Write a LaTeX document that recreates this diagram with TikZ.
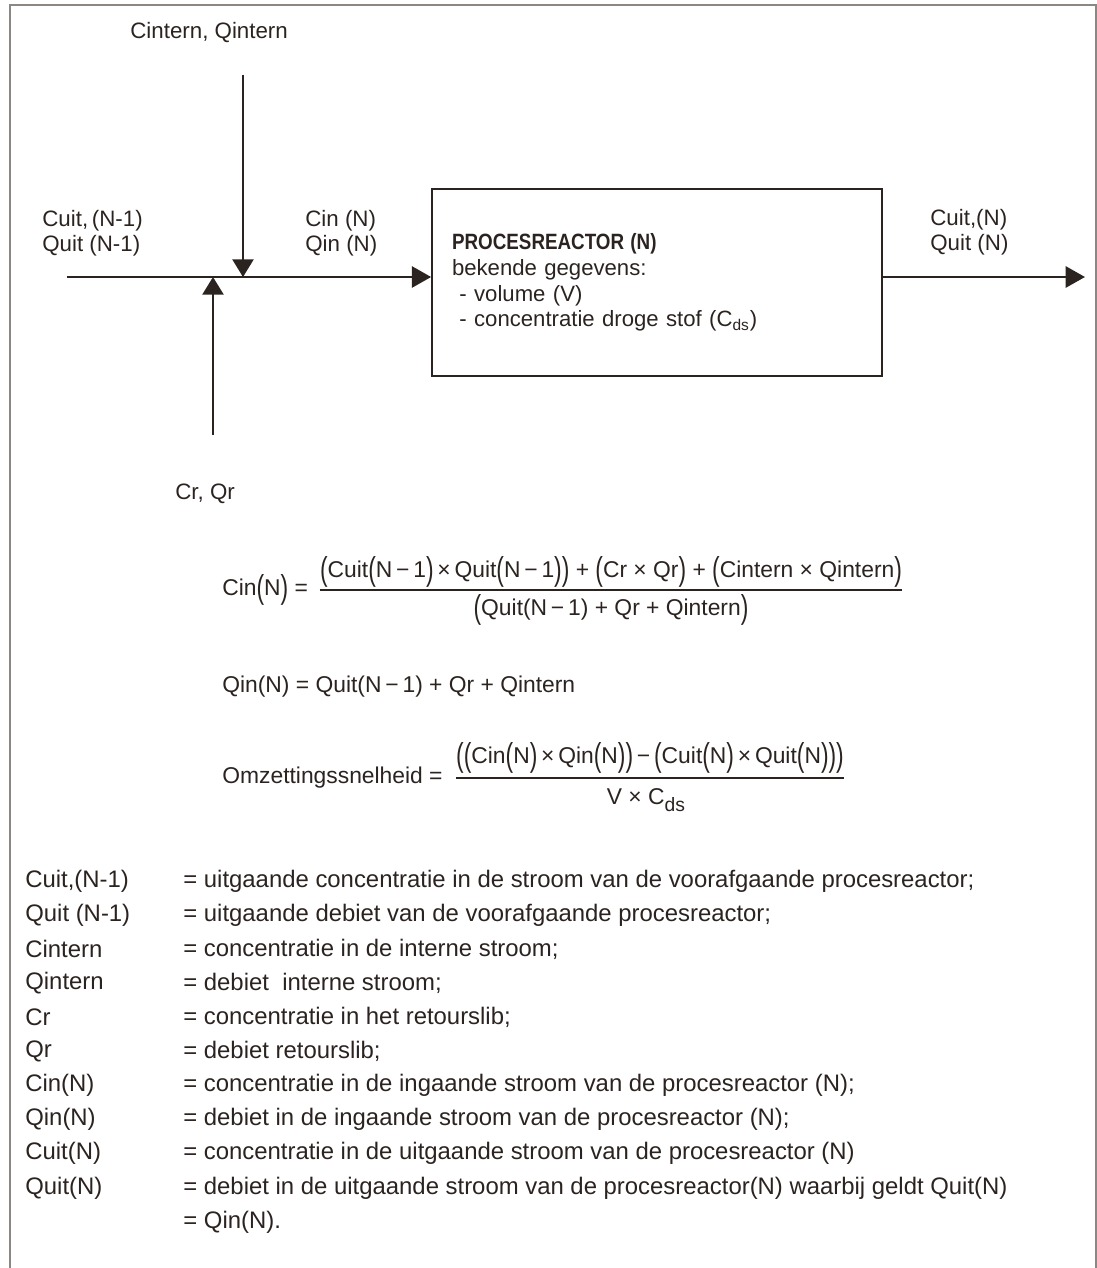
\documentclass[tikz,border=0pt]{standalone}
\usepackage{fontspec}
\usepackage{graphicx}
\setmainfont{Liberation Sans}
\usetikzlibrary{arrows.meta}
\definecolor{ink}{RGB}{43,35,32}
\definecolor{framegray}{RGB}{140,135,130}
\newcommand{\bo}{\raisebox{-0.12em}{\scalebox{1}[1.45]{(}}}
\newcommand{\bc}{\raisebox{-0.12em}{\scalebox{1}[1.45]{)}}}
\begin{document}
\begin{tikzpicture}[x=0.02cm, y=-0.02cm, font=\fontsize{12.7}{14.2}\selectfont, text=ink,
   lbl/.style={anchor=west, inner sep=0pt, align=left},
   formula/.style={lbl, font=\fontsize{13}{15}\selectfont},
   fracpart/.style={inner sep=0pt, font=\fontsize{13}{15}\selectfont},
   fracbar/.style={draw=ink, line width=0.8pt},
   legend/.style={lbl, font=\fontsize{13.6}{16}\selectfont},
   flow/.style={draw=ink, line width=1.5pt, -{Triangle[length=11pt,width=12pt]}},
   feed/.style={draw=ink, line width=1pt, -{Triangle[length=10pt,width=12pt]}},
   reactor/.style={draw=ink, line width=1pt, minimum width=9cm, minimum height=3.74cm,
      text width=8.2cm, inner xsep=0.4cm, align=left, font=\fontsize{12.6}{14.7}\selectfont}]
   \useasboundingbox (0,0) rectangle (1097,1268);
   \draw[framegray, line width=1pt] (10,1268) -- (10,5) -- (1096,5) -- (1096,1268);
   % streams into the reactor
   \node[lbl] (intern) at (130,33) {Cintern, Qintern};
   \node[lbl] (prev) at (42,233) {Cuit,\,(N-1)\\Quit (N-1)};
   \node[lbl] (inlbl) at (305,233) {Cin (N)\\Qin (N)};
   \node[lbl] (retour) at (175,494) {Cr, Qr};
   \coordinate (start) at (67,277);
   \coordinate (ctop) at (243,75);
   \coordinate (cjunc) at (243,277);
   \coordinate (rbot) at (213,435);
   \coordinate (rjunc) at (213,277);
   \node[reactor] (reactor) at (657,282.5) {\scalebox{0.85}[1]{\fontsize{12.6}{14.7}\selectfont\textbf{PROCESREACTOR (N)}}\\bekende gegevens:\\
      \ - volume (V)\\\ - concentratie droge stof (C\textsubscript{ds})};
   \node[lbl] (outlbl) at (930,232) {Cuit,(N)\\Quit (N)};
   \coordinate (out) at (1085,277);
   \draw[flow] (start) -- (start -| reactor.west);
   \draw[feed] (ctop) -- (cjunc);
   \draw[feed] (rbot) -- (rjunc);
   \draw[flow] (reactor.east |- start) -- (out);
   % formulas
   \node[formula] (cinlhs) at (222,590) {Cin\bo N\bc{} =};
   \node[fracpart] (cinnum) at (611,572) {\bo Cuit\bo N\,−\,1\bc{}\,×\,Quit\bo N\,−\,1\bc\bc{} + \bo Cr × Qr\bc{} + \bo Cintern × Qintern\bc};
   \node[fracpart] (cinden) at (611,610) {\bo Quit(N\,−\,1) + Qr + Qintern\bc};
   \draw[fracbar] (cinnum.west |- cinlhs) -- (cinnum.east |- cinlhs);
   \node[formula] (qinf) at (222,687) {Qin(N) = Quit(N\,−\,1) + Qr + Qintern};
   \node[formula] (omzlhs) at (222,778) {Omzettingssnelheid =};
   \node[fracpart] (omznum) at (650,758) {\bo\bo Cin\bo N\bc{}\,×\,Qin\bo N\bc\bc{}\,−\,\bo Cuit\bo N\bc{}\,×\,Quit\bo N\bc\bc\bc};
   \node[fracpart] (omzden) at (646,800) {V × C\raisebox{-0.3em}{\fontsize{11}{12}\selectfont ds}};
   \draw[fracbar] (omznum.west |- omzlhs) -- (omznum.east |- omzlhs);
   % legend
   \foreach \sym/\txt [count=\i] in {{Cuit,(N-1)}/{= uitgaande concentratie in de stroom van de voorafgaande procesreactor;},
      {Quit (N-1)}/{= uitgaande debiet van de voorafgaande procesreactor;},
      {Cintern}/{= concentratie in de interne stroom;},
      {Qintern}/{= debiet\ \ interne stroom;},
      {Cr}/{= concentratie in het retourslib;},
      {Qr}/{= debiet retourslib;},
      {Cin(N)}/{= concentratie in de ingaande stroom van de procesreactor (N);},
      {Qin(N)}/{= debiet in de ingaande stroom van de procesreactor (N);},
      {Cuit(N)}/{= concentratie in de uitgaande stroom van de procesreactor (N)},
      {Quit(N)}/{= debiet in de uitgaande stroom van de procesreactor(N) waarbij geldt Quit(N)},
      {}/{= Qin(N).}}
   {
      \node[legend] (sym\i) at (25,{881+34.1*(\i-1)}) {\sym};
      \node[legend] (def\i) at (183,{881+34.1*(\i-1)}) {\txt};
   }
\end{tikzpicture}
\end{document}
